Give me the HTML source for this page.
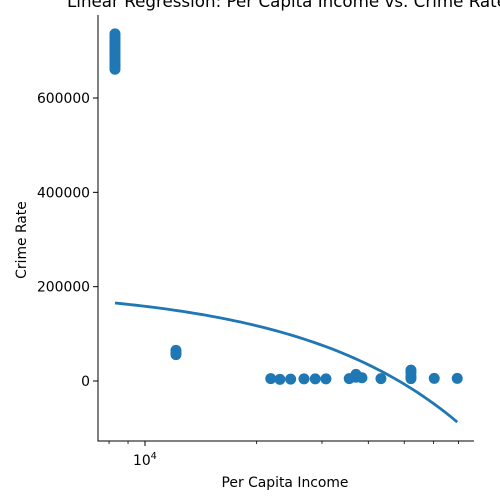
<!DOCTYPE html>
<html><head><meta charset="utf-8"><style>
html,body{margin:0;padding:0;background:#fff}
svg{display:block;font-family:"DejaVu Sans","Liberation Sans",sans-serif}
</style></head><body>
<svg id="chart" width="500" height="500" viewBox="0 0 500 500">
<text x="67" y="7" font-size="16.7" textLength="440" lengthAdjust="spacingAndGlyphs">Linear Regression: Per Capita Income vs. Crime Rate</text>
<g id="marks"></g>
<g id="axes"></g>
<text x="285" y="487" font-size="13.9" text-anchor="middle">Per Capita Income</text>
<text x="0" y="0" font-size="13.9" text-anchor="middle" transform="translate(26,240) rotate(-90)">Crime Rate</text>
</svg>
<script>
const incomeX = [8300,8300,8300,8300,8300,8300,8300,8300,8300,8300,8300,8300,8300,8300,8300,8300,12120,12120,12120,21830,23110,24700,26830,28770,30750,35530,37050,37050,38450,43260,52120,52120,52120,52120,60230,69470];
const crimeY = [736000,731000,726000,721000,716000,711000,706000,701000,696000,691000,686000,681000,676000,671000,666000,661000,65000,60000,56000,5000,3500,4000,4500,4500,4500,5000,8000,14000,7000,5000,5000,10000,18000,23000,5500,5500];
const regIntercept = 199650;
const regSlope = -4.126;
const yTicks = [0,200000,400000,600000];
const xTickMajor = [10000];
const xTickMinor = [8000,9000,20000,30000,40000,50000,60000,70000];

const L=98,R=474,T=15,B=441;
const xMinLog=3.8733, xMaxLog=4.887;
const yMin=-127200, yMax=776000;
const sx=v=>L+(Math.log10(v)-xMinLog)/(xMaxLog-xMinLog)*(R-L);
const sy=v=>B-(v-yMin)/(yMax-yMin)*(B-T);
const NS="http://www.w3.org/2000/svg";
const mk=(t,a,p)=>{const e=document.createElementNS(NS,t);for(const k in a)e.setAttribute(k,a[k]);p.appendChild(e);return e;};
const marks=document.getElementById('marks'), axes=document.getElementById('axes');

incomeX.forEach((x,i)=>{
  const c=mk('circle',{cx:sx(x),cy:sy(crimeY[i]),r:5.5,fill:'#1f77b4'},marks);
  
  
});
const xs=Math.min(...incomeX), xe=Math.max(...incomeX);
let d='';
for(let k=0;k<=60;k++){
  const lx=Math.log10(xs)+(Math.log10(xe)-Math.log10(xs))*k/60;
  const x=Math.pow(10,lx);
  d+=(k?'L':'M')+sx(x).toFixed(2)+','+sy(regIntercept+regSlope*x).toFixed(2);
}
const line=mk('path',{d:d,fill:'none',stroke:'#1f77b4','stroke-width':2.8},marks);



const ly=mk('line',{x1:L,y1:T,x2:L,y2:B+0.5,stroke:'#000','stroke-width':1},axes);


const lx=mk('line',{x1:L-0.5,y1:B,x2:R,y2:B,stroke:'#000','stroke-width':1},axes);


yTicks.forEach(v=>{
  const y=sy(v);
  mk('line',{x1:L-5,y1:y,x2:L,y2:y,stroke:'#000','stroke-width':1},axes);
  const t=mk('text',{x:L-8,y:y+5,'font-size':13.9,'text-anchor':'end'},axes);
  t.textContent=String(v);
  
  
});
xTickMajor.forEach(v=>{
  const x=sx(v);
  mk('line',{x1:x,y1:B,x2:x,y2:B+5,stroke:'#000','stroke-width':1},axes);
  const t=mk('text',{x:x-12,y:B+24,'font-size':13.9},axes);
  t.innerHTML='10<tspan font-size="9.7" dy="-6">4</tspan>';
  
  
});
xTickMinor.forEach(v=>{
  const x=sx(v);
  const m=mk('line',{x1:x,y1:B,x2:x,y2:B+3,stroke:'#000','stroke-width':0.8},axes);
  
  
});
</script>
</body></html>
